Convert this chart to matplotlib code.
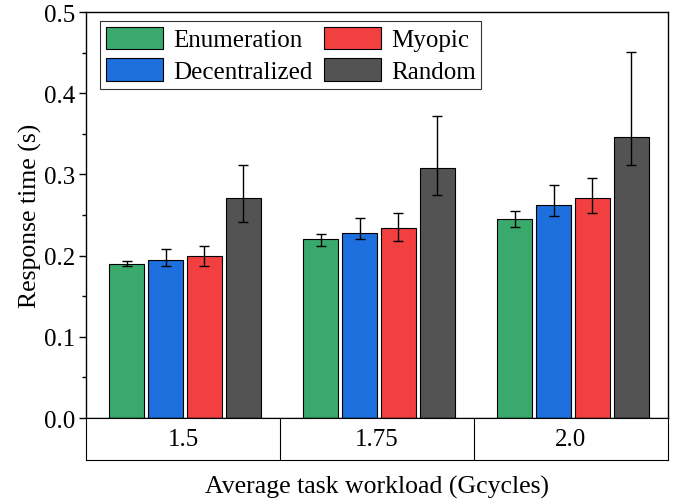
import matplotlib
matplotlib.use("Agg")
import matplotlib.pyplot as plt
import numpy as np

plt.rcParams['font.family'] = ['Liberation Serif', 'DejaVu Serif']
plt.rcParams['mathtext.fontset'] = 'stix'

categories = ["1.5", "1.75", "2.0"]
methods = ["Enumeration", "Decentralized", "Myopic", "Random"]
colors = ["#3aaa6c", "#1c6fdc", "#f24041", "#535353"]

means = {
    "Enumeration":   [0.190, 0.220, 0.245],
    "Decentralized": [0.195, 0.228, 0.262],
    "Myopic":        [0.199, 0.234, 0.271],
    "Random":        [0.271, 0.308, 0.346],
}
lower = {
    "Enumeration":   [0.1875, 0.212, 0.235],
    "Decentralized": [0.1875, 0.220, 0.249],
    "Myopic":        [0.187, 0.218, 0.252],
    "Random":        [0.241, 0.275, 0.312],
}
upper = {
    "Enumeration":   [0.193, 0.227, 0.255],
    "Decentralized": [0.208, 0.246, 0.287],
    "Myopic":        [0.212, 0.252, 0.295],
    "Random":        [0.312, 0.372, 0.451],
}

fig = plt.figure(figsize=(6.81, 5.02), dpi=100)
ax = fig.add_axes([86/681, 1-419/502, (668-86)/681, (419-13)/502])

x = np.arange(len(categories))
width = 0.18
step = 0.2
offsets = (np.arange(len(methods)) - 1.5) * step + 0.01
for i, m in enumerate(methods):
    mv = np.array(means[m])
    lo = mv - np.array(lower[m])
    hi = np.array(upper[m]) - mv
    ax.bar(x + offsets[i], mv, width, color=colors[i], edgecolor="black",
           linewidth=0.8, label=m, zorder=2)
    ax.errorbar(x + offsets[i], mv, yerr=[lo, hi], fmt='none', ecolor='black',
                elinewidth=1.0, capsize=3.5, capthick=1.0, zorder=3)

ax.set_xlim(-0.5, 2.5)
ax.set_ylim(0, 0.5)
ax.set_yticks([0.0, 0.1, 0.2, 0.3, 0.4, 0.5])
ax.set_yticklabels(["0.0", "0.1", "0.2", "0.3", "0.4", "0.5"])
ax.set_yticks(np.arange(0.05, 0.5, 0.1), minor=True)
ax.set_xticks([])
ax.tick_params(axis='y', which='major', direction='out', length=5, width=1,
               labelsize=18, pad=3)
ax.tick_params(axis='y', which='minor', direction='out', length=3, width=1)
for s in ax.spines.values():
    s.set_linewidth(1.0)
ax.set_ylabel("Response time (s)", fontsize=18.5, labelpad=1)

leg = ax.legend(loc='upper left', bbox_to_anchor=(14/582, 1-9/406), ncol=2,
                fontsize=18, frameon=True, fancybox=False,
                edgecolor='black', handlelength=2.3, handleheight=1.0,
                columnspacing=0.45, handletextpad=0.4, labelspacing=0.28,
                borderpad=0.22, borderaxespad=0.0)
leg.get_frame().set_linewidth(0.8)

# category table below
tax = fig.add_axes([86/681, 1-461/502, (668-86)/681, (461-419)/502])
tax.set_xlim(-0.5, 2.5)
tax.set_ylim(0, 1)
tax.set_xticks([])
tax.set_yticks([])
for b in [0.5, 1.5]:
    tax.axvline(b, color='black', linewidth=0.8)
for s in tax.spines.values():
    s.set_linewidth(0.8)
for xi, c in zip(x, categories):
    tax.text(xi, 0.5, c, ha='center', va='center', fontsize=18)

fig.text((86 + 668) / 2 / 681, 1 - 487/502, "Average task workload (Gcycles)",
         ha='center', va='center', fontsize=18.5)

fig.savefig("out.png", dpi=100)
